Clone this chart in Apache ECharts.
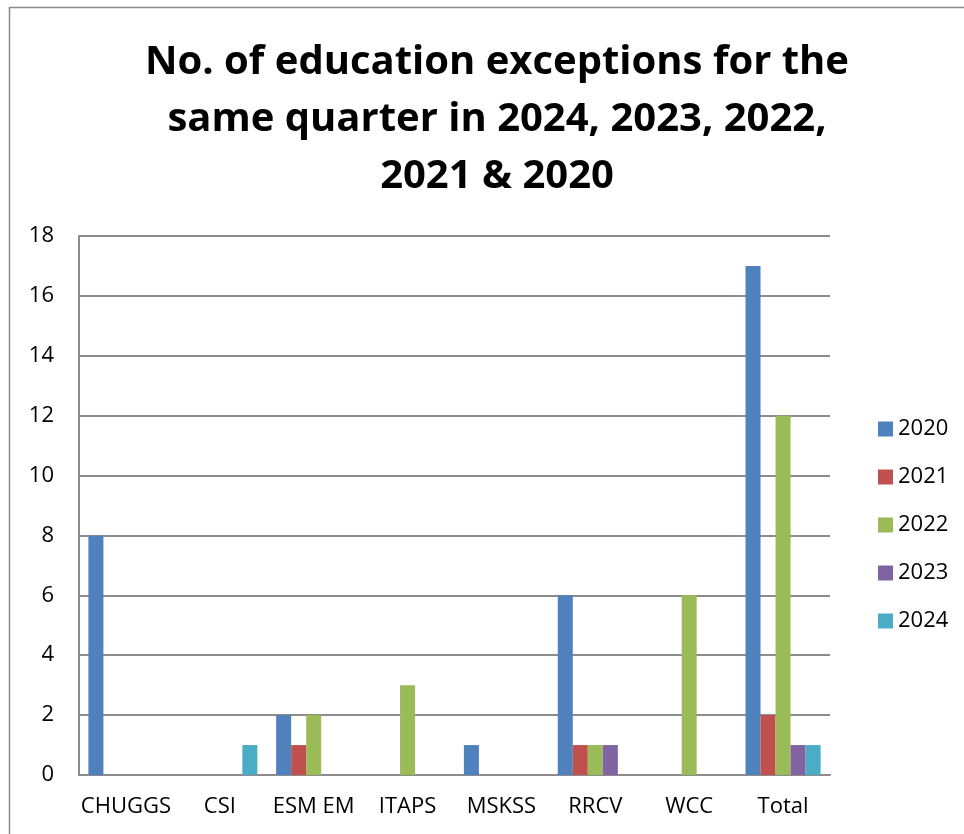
<!DOCTYPE html>
<html>
<head>
<meta charset="utf-8">
<script src="https://cdn.jsdelivr.net/npm/echarts@6/dist/echarts.min.js"></script>
<style>
	html, body { margin: 0; padding: 0; background: #fff; }
	#chart { width: 964px; height: 834px; }
</style>
</head>
<body>
<div id="chart"></div>
<script>
const categories = ['CHUGGS', 'CSI', 'ESM EM', 'ITAPS', 'MSKSS', 'RRCV', 'WCC', 'Total']
const years = ['2020', '2021', '2022', '2023', '2024']
const v2020 = [8, 0, 2, 0, 1, 6, 0, 17]
const v2021 = [0, 0, 1, 0, 0, 1, 0, 2]
const v2022 = [0, 0, 2, 3, 0, 1, 6, 12]
const v2023 = [0, 0, 0, 0, 0, 1, 0, 1]
const v2024 = [0, 1, 0, 0, 0, 0, 0, 1]
const colors = ['#4F81BD', '#C0504D', '#9BBB59', '#8064A2', '#4BACC6']

const font = '"Open Sans", "Liberation Sans", sans-serif'
const values = [v2020, v2021, v2022, v2023, v2024]

const chart = echarts.init(document.getElementById('chart'))
chart.setOption({
	animation: false,
	color: colors,
	textStyle: { fontFamily: font },
	title: {
		text: 'No. of education exceptions for the\nsame quarter in 2024, 2023, 2022,\n2021 & 2020',
		left: 492,
		top: 29,
		textAlign: 'center',
		textStyle: {
			fontFamily: font,
			fontSize: 40,
			fontWeight: 'bold',
			lineHeight: 57,
			color: '#000'
		}
	},
	graphic: [ {
		type: 'rect',
		shape: { x: 9.5, y: 7.5, width: 1000, height: 900 },
		style: { fill: 'none', stroke: '#8c8c8c', lineWidth: 1.5 },
		silent: true
	} ],
	legend: {
		orient: 'vertical',
		left: 873,
		top: 413,
		itemWidth: 15,
		itemHeight: 15,
		itemGap: 26,
		icon: 'rect',
		textStyle: { fontSize: 22, color: '#000', fontFamily: font },
		data: years
	},
	grid: {
		left: 79,
		right: 134,
		top: 236,
		bottom: 59,
		containLabel: false
	},
	xAxis: {
		type: 'category',
		data: categories,
		axisTick: { show: false },
		axisLine: { lineStyle: { color: '#8c8c8c', width: 2 } },
		axisLabel: { fontSize: 22, color: '#000', margin: 21, interval: 0 }
	},
	yAxis: {
		type: 'value',
		min: 0,
		max: 18,
		interval: 2,
		axisTick: { show: false },
		axisLine: { show: true, lineStyle: { color: '#8c8c8c', width: 2 } },
		splitLine: { lineStyle: { color: '#8c8c8c', width: 2 } },
		axisLabel: { fontSize: 22, color: '#000', margin: 25 }
	},
	series: years.map((y, i) => ({
		name: y,
		type: 'bar',
		data: values[i],
		barGap: '0%',
		barCategoryGap: '20%',
		itemStyle: { color: colors[i] }
	}))
})
</script>
</body>
</html>
